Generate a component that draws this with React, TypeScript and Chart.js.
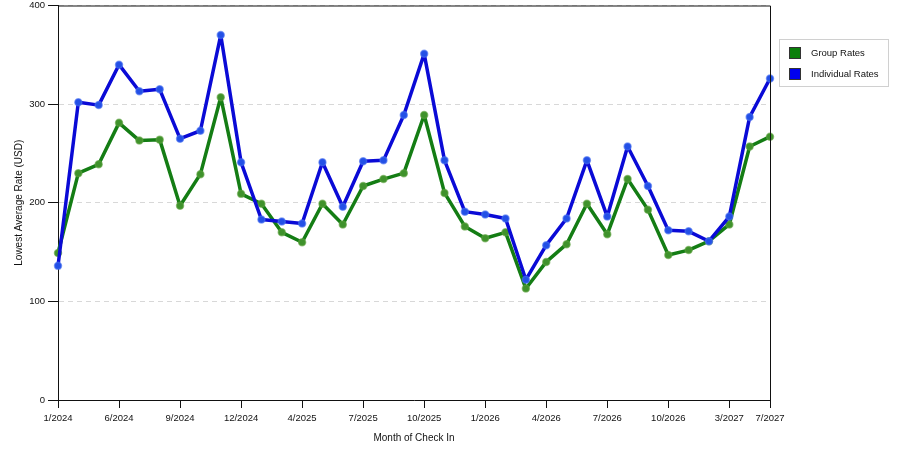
import { useEffect, useRef } from 'react';
import Chart from 'chart.js/auto';

const months = [
  '1/2024', '2/2024', '4/2024', '6/2024', '7/2024', '8/2024', '9/2024', '10/2024', '11/2024',
  '12/2024', '1/2025', '3/2025', '4/2025', '5/2025', '6/2025', '7/2025', '8/2025', '9/2025',
  '10/2025', '11/2025', '12/2025', '1/2026', '2/2026', '3/2026', '4/2026', '5/2026', '6/2026',
  '7/2026', '8/2026', '9/2026', '10/2026', '11/2026', '1/2027', '3/2027', '5/2027', '7/2027',
];

const groupRates = [
  149, 230, 239, 281, 263, 264, 197, 229, 307, 209, 199, 170,
  160, 199, 178, 217, 224, 230, 289, 210, 176, 164, 170, 113,
  140, 158, 199, 168, 224, 193, 147, 152, 161, 178, 257, 267,
];

const individualRates = [
  136, 302, 299, 340, 313, 315, 265, 273, 370, 241, 183, 181,
  179, 241, 196, 242, 243, 289, 351, 243, 191, 188, 184, 122,
  157, 184, 243, 186, 257, 217, 172, 171, 161, 186, 287, 326,
];

const yTicks = [0, 100, 200, 300, 400];

const FONT = 'Liberation Sans, Arial, sans-serif';

const legendItems = [
  { label: 'Group Rates', color: '#0a7f0a' },
  { label: 'Individual Rates', color: '#0000ee' },
];

// frame on top/right of the plot plus the boxed legend
const framePlugin = {
  id: 'frameAndLegend',
  afterDraw(chart: Chart) {
    const { ctx, chartArea } = chart;
    ctx.save();
    ctx.strokeStyle = '#111';
    ctx.lineWidth = 1;
    ctx.beginPath();
    ctx.moveTo(chartArea.left, chartArea.top + 0.5);
    ctx.lineTo(chartArea.right + 0.5, chartArea.top + 0.5);
    ctx.lineTo(chartArea.right + 0.5, chartArea.bottom);
    ctx.stroke();

    ctx.strokeStyle = '#d0d0d0';
    ctx.strokeRect(779.5, 39.5, 109, 47);
    ctx.font = `9.5px ${FONT}`;
    ctx.textBaseline = 'middle';
    legendItems.forEach((item, i) => {
      const y = 47 + i * 21;
      ctx.fillStyle = item.color;
      ctx.fillRect(789, y, 12, 12);
      ctx.strokeStyle = '#333';
      ctx.strokeRect(789.5, y + 0.5, 11, 11);
      ctx.fillStyle = '#111';
      ctx.fillText(item.label, 811, y + 6.5);
    });
    ctx.restore();
  },
};

const App = () => {
  const canvasRef = useRef<HTMLCanvasElement>(null);
  const chartInstance = useRef<Chart | null>(null);

  useEffect(() => {
    if (!canvasRef.current) return;
    if (chartInstance.current) chartInstance.current.destroy();

    chartInstance.current = new Chart(canvasRef.current, {
      type: 'line',
      data: {
        labels: months,
        datasets: [
          {
            label: 'Group Rates',
            data: groupRates,
            borderColor: '#147d14',
            backgroundColor: '#3f922c',
            pointBackgroundColor: '#3f922c',
            pointBorderColor: 'rgba(90,160,60,0.6)',
            pointBorderWidth: 1.5,
            pointRadius: 3.5,
            borderWidth: 3.5,
            borderJoinStyle: 'round',
            tension: 0,
            order: 1,
          },
          {
            label: 'Individual Rates',
            data: individualRates,
            borderColor: '#0a0ad6',
            backgroundColor: '#2350e6',
            pointBackgroundColor: '#2350e6',
            pointBorderColor: 'rgba(70,110,240,0.6)',
            pointBorderWidth: 1.5,
            pointRadius: 3.5,
            borderWidth: 3.5,
            borderJoinStyle: 'round',
            tension: 0,
            order: 0,
          },
        ],
      },
      options: {
        animation: false,
        responsive: false,
        layout: { padding: { left: 0, top: 5, right: 130, bottom: 0 } },
        plugins: {
          legend: { display: false },
          tooltip: { enabled: false },
        },
        scales: {
          x: {
            type: 'category',
            offset: false,
            afterFit: (scale: any) => {
              scale.height = 50;
            },
            afterBuildTicks: (scale: any) => {
              const last = months.length - 1;
              scale.ticks = scale.ticks.filter(
                (t: any) => t.value % 3 === 0 || t.value === last
              );
            },
            ticks: {
              autoSkip: false,
              maxRotation: 0,
              padding: 5,
              color: '#111',
              font: { family: FONT, size: 9.5 },
              callback: function (this: any, value: any) {
                return this.getLabelForValue(value);
              },
            },
            grid: {
              drawOnChartArea: false,
              drawTicks: true,
              tickLength: 8,
              tickColor: '#111',
            },
            border: { display: true, color: '#111', width: 1 },
            title: {
              display: true,
              text: 'Month of Check In',
              color: '#111',
              font: { family: FONT, size: 10 },
              padding: { top: 0, bottom: 6 },
            },
          },
          y: {
            min: 0,
            max: 400,
            afterFit: (scale: any) => {
              scale.width = 58;
              scale.paddingTop = 0;
              scale.paddingBottom = 0;
            },
            afterBuildTicks: (scale: any) => {
              scale.ticks = yTicks.map((v) => ({ value: v }));
            },
            ticks: {
              padding: 3,
              color: '#111',
              font: { family: FONT, size: 9.5 },
            },
            grid: {
              color: '#d8d8d8',
              tickColor: '#111',
              tickLength: 10,
              tickBorderDash: [],
            },
            border: { display: true, color: '#111', width: 1, dash: [5, 4] },
            title: {
              display: true,
              text: 'Lowest Average Rate (USD)',
              color: '#111',
              font: { family: FONT, size: 10 },
              padding: { top: 13, bottom: 0 },
            },
          },
        },
      },
      plugins: [framePlugin],
    });

    return () => {
      if (chartInstance.current) {
        chartInstance.current.destroy();
        chartInstance.current = null;
      }
    };
  }, []);

  return (
    <div style={{ position: 'fixed', left: 0, top: 0, width: 900, height: 450, background: '#fff' }}>
      <canvas ref={canvasRef} width={900} height={450} style={{ display: 'block' }} />
    </div>
  );
};

export default App;
